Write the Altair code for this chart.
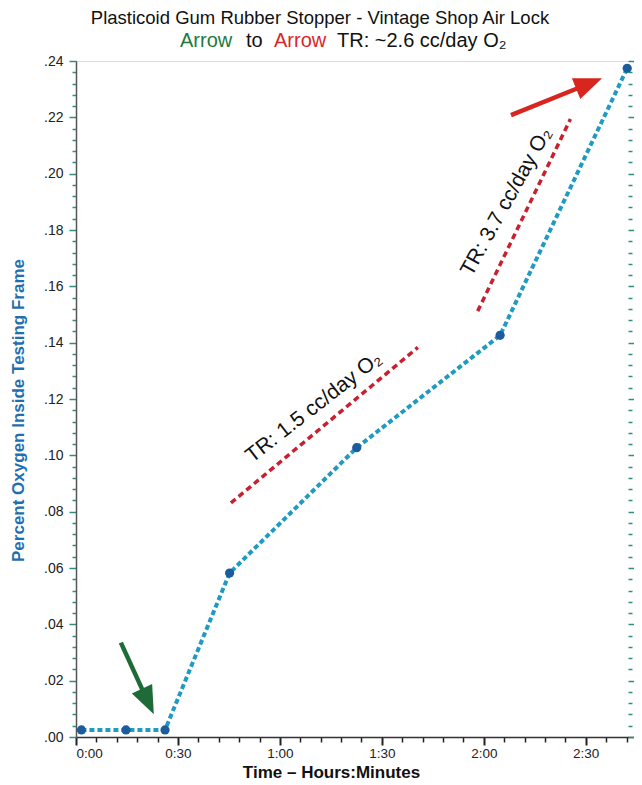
import altair as alt
import pandas as pd

# ---------------- data ----------------
time_min = [1.6, 14.7, 26.2, 45.2, 82.6, 124.8, 162.2]
oxygen_pct = [0.0025, 0.0025, 0.0025, 0.0582, 0.1027, 0.1426, 0.2374]

trend_x_start = [45.6, 118.2]
trend_y_start = [0.0831, 0.1512]
trend_x_end = [100.6, 145.5]
trend_y_end = [0.1383, 0.2194]

trend_labels = ["TR: 1.5 cc/day O\u2082", "TR: 3.7 cc/day O\u2082"]
label_x = [70.0, 126.7]
label_y = [0.117, 0.190]
label_angle = [322, 299]

arrow_colors = ["#1f6b37", "#d8261f"]
arrow_tail_x = [13.2, 128.0]
arrow_tail_y = [0.0335, 0.2208]
arrow_shaft_end_x = [20.6, 148.0]
arrow_shaft_end_y = [0.0140, 0.2305]
arrow_tip_x = [22.9, 154.8]
arrow_tip_y = [0.0081, 0.2339]
arrow_angle = [155, 68]

x_tick_values = list(range(0, 163, 6))
y_tick_values = [round(i * 0.004, 3) for i in range(61)]

title_line1 = "Plasticoid Gum Rubber Stopper - Vintage Shop Air Lock"
title_line2_parts = ["Arrow", "to", "Arrow", "TR: ~2.6 cc/day O\u2082"]
title_line2_colors = ["#1e7a3c", "#111111", "#d8262a", "#111111"]
title_line2_left = [104, 170, 198, 261]

FONT = "Liberation Sans"
W, H = 558, 676
PAD = {"left": 68, "top": 53, "right": 0, "bottom": 46}

# ---------------- tables ----------------
series = pd.DataFrame({"t": time_min, "o2": oxygen_pct})
trends = pd.DataFrame({"x": trend_x_start, "y": trend_y_start,
                       "x2": trend_x_end, "y2": trend_y_end})
labels = pd.DataFrame({"x": label_x, "y": label_y, "text": trend_labels,
                       "angle": label_angle})
arrows = pd.DataFrame({"x": arrow_tail_x, "y": arrow_tail_y,
                       "x2": arrow_shaft_end_x, "y2": arrow_shaft_end_y,
                       "tx": arrow_tip_x, "ty": arrow_tip_y,
                       "angle": arrow_angle, "color": arrow_colors})
t2 = pd.DataFrame({"text": title_line2_parts, "color": title_line2_colors,
                   "left": title_line2_left})

# ---------------- scales / axes ----------------
xs = alt.Scale(domain=[0, 164.2], nice=False, zero=False)
ys = alt.Scale(domain=[0, 0.24], nice=False, zero=False)

major_x = "datum.value % 30 == 0"
x_axis = alt.Axis(
    values=x_tick_values,
    labelExpr=major_x + " ? floor(datum.value/60) + ':' + (datum.value % 60 == 0 ? '00' : '30') : ''",
    tickSize={"condition": {"test": major_x, "value": 8}, "value": 5},
    tickWidth={"condition": {"test": major_x, "value": 2}, "value": 1.5},
    tickColor="#222222", domainColor="#333333", domainWidth=1.5, grid=False,
    labelFont=FONT, labelFontSize=13.5, labelColor="#222222", labelPadding=1,
    title="Time \u2013 Hours:Minutes", titleFont=FONT, titleFontSize=17,
    titleFontWeight="bold", titleColor="#111111", titleX=255, titlePadding=5,
)

major_y = "round(datum.value*1000) % 20 == 0"
y_axis_left = alt.Axis(
    orient="left", values=y_tick_values,
    labelExpr=major_y + " ? substring(format(datum.value, '.2f'), 1) : ''",
    tickSize={"condition": {"test": major_y, "value": 7}, "value": 4},
    tickColor="#2f8f80", tickWidth=1.5, domainColor="#555555", domainWidth=1.5,
    grid=False, labelFont=FONT, labelFontSize=14, labelColor="#222222",
    labelPadding=6,
    title="Percent Oxygen Inside Testing Frame", titleFont=FONT,
    titleFontSize=17, titleFontWeight="bold", titleColor="#1f6fb0",
    titlePadding=16, titleY=349,
)
y_axis_right = alt.Axis(
    orient="right", values=y_tick_values, labels=False, domain=False,
    offset=-6, grid=False, title=None,
    tickSize={"condition": {"test": major_y, "value": 6}, "value": 4},
    tickColor="#2f8f80", tickWidth=1.5,
)

X = lambda f: alt.X(f, type="quantitative", scale=xs, axis=x_axis)
Ynone = lambda f: alt.Y(f, type="quantitative", scale=ys, axis=None)

trend_layer = alt.Chart(trends).mark_rule(
    color="#c8202e", strokeWidth=3.5, strokeDash=[6, 4]
).encode(x=X("x"), y=Ynone("y"), x2="x2", y2="y2")

line_layer = alt.Chart(series).mark_line(
    color="#1f9ac0", strokeWidth=4, strokeDash=[5, 3]
).encode(x=X("t"), y=alt.Y("o2", type="quantitative", scale=ys, axis=y_axis_left))

point_layer = alt.Chart(series).mark_circle(
    size=85, color="#1c5c9c", opacity=1
).encode(x=X("t"), y=alt.Y("o2", type="quantitative", scale=ys, axis=y_axis_right))

shaft_layer = alt.Chart(arrows).mark_rule(strokeWidth=4.5).encode(
    x=X("x"), y=Ynone("y"), x2="x2", y2="y2",
    color=alt.Color("color:N", scale=None),
)
head_layer = alt.Chart(arrows).mark_point(
    shape="M0,0L0.8,2L-0.8,2Z", filled=True, opacity=1, size=784, strokeWidth=0
).encode(
    x=X("tx"), y=Ynone("ty"),
    color=alt.Color("color:N", scale=None),
    angle=alt.Angle("angle:Q", scale=None),
)

label_layer = alt.Chart(labels).mark_text(
    font=FONT, fontSize=21, color="#111111", align="center", baseline="middle"
).encode(
    x=X("x"), y=Ynone("y"), text="text:N",
    angle=alt.Angle("angle:Q", scale=None),
)

title1_layer = alt.Chart(pd.DataFrame({"text": [title_line1]})).mark_text(
    font=FONT, fontSize=18.5, color="#111111", align="center", baseline="middle"
).encode(x=alt.value(244), y=alt.value(-43), text="text:N")

title2_layer = alt.Chart(t2).mark_text(
    font=FONT, fontSize=20, align="left", baseline="middle"
).encode(
    x=alt.value(0), y=alt.value(-20), text="text:N",
    color=alt.Color("color:N", scale=None),
    xOffset=alt.XOffset("left:Q", scale=None),
)

chart = alt.layer(
    trend_layer, line_layer, point_layer, shaft_layer, head_layer,
    label_layer, title1_layer, title2_layer,
).resolve_axis(y="independent").properties(
    width=W, height=H,
    padding=PAD,
    autosize=alt.AutoSizeParams(type="none"),
    background="white",
).configure_view(stroke="#444444", strokeWidth=1.5).configure(font=FONT)

chart.save("out.html", embed_options={"renderer": "svg", "actions": False})
